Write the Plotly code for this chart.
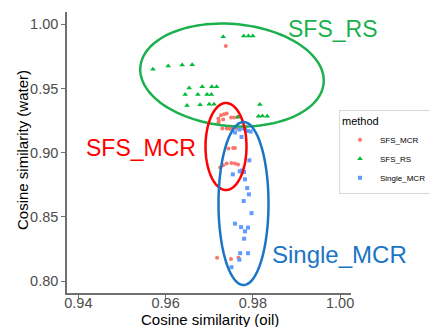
import numpy as np
import plotly.graph_objects as go

# ---- data ----
rs_x = [0.9571, 0.9606, 0.9638, 0.9661, 0.9654, 0.9684, 0.9706, 0.9717, 0.9645, 0.9674,
        0.9695, 0.9705, 0.9649, 0.9679, 0.9700, 0.9711, 0.9732, 0.9779, 0.9790, 0.9800,
        0.9816, 0.9813, 0.9822, 0.9833, 0.9766]
rs_y = [0.9651, 0.9675, 0.9683, 0.9686, 0.9505, 0.9513, 0.9513, 0.9513, 0.9454, 0.9454,
        0.9454, 0.9454, 0.9368, 0.9374, 0.9377, 0.9377, 0.9903, 0.9909, 0.9909, 0.9909,
        0.9376, 0.9285, 0.9287, 0.9285, 0.9279]

mcr_x = [0.9738, 0.9721, 0.9727, 0.9734, 0.9740, 0.9722, 0.9732, 0.9750, 0.9757, 0.9765,
         0.9721, 0.9730, 0.9740, 0.9747, 0.9751, 0.9763, 0.9744, 0.9755, 0.9759, 0.9725,
         0.9732, 0.9740, 0.9751, 0.9759, 0.9766, 0.9718, 0.9750, 0.9767]
mcr_y = [0.9831, 0.9267, 0.9292, 0.9300, 0.9306, 0.9248, 0.9259, 0.9275, 0.9275, 0.9279,
         0.9236, 0.9189, 0.9189, 0.9186, 0.9189, 0.9191, 0.9033, 0.9037, 0.9037, 0.8885,
         0.8902, 0.8916, 0.8920, 0.8916, 0.8908, 0.8183, 0.8172, 0.8183]

single_x = [0.9759, 0.9769, 0.9778, 0.9782, 0.9788, 0.9795, 0.9774, 0.9792, 0.9770, 0.9776,
            0.9780, 0.9754, 0.9782, 0.9787, 0.9791, 0.9779, 0.9797, 0.9759, 0.9773, 0.9789,
            0.9782, 0.9780, 0.9771, 0.9789, 0.9769, 0.9751]
single_y = [0.9158, 0.9181, 0.9189, 0.9189, 0.9170, 0.9165, 0.9123, 0.8941, 0.8856, 0.8863,
            0.8850, 0.8832, 0.8793, 0.8725, 0.8676, 0.8624, 0.8530, 0.8448, 0.8421, 0.8417,
            0.8388, 0.8331, 0.8218, 0.8218, 0.8167, 0.8109]

x_ticks = [0.94, 0.96, 0.98, 1.00]
y_ticks = [0.80, 0.85, 0.90, 0.95, 1.00]

# page body has an 8px default margin -> figure is offset by 8px
OFF = 8
W, H = 438 - OFF, 327 - OFF
ML, MR, MT, MB = 67 - OFF, 87, 12 - OFF, 34
PW, PH = W - ML - MR, H - MT - MB


def pap(px, py):
    # window pixel -> paper coordinates
    return (px - OFF - ML) / PW, (H - MB - (py - OFF)) / PH


def ellipse_path(cx, cy, a, b, deg):
    t = np.linspace(0, 2 * np.pi, 120)
    th = np.radians(deg)
    px = cx + a * np.cos(t) * np.cos(th) - b * np.sin(t) * np.sin(th)
    py = cy + a * np.cos(t) * np.sin(th) + b * np.sin(t) * np.cos(th)
    fx, fy = pap(px, py)
    return "M " + " L ".join(f"{x:.4f},{y:.4f}" for x, y in zip(fx, fy)) + " Z"


fig = go.Figure()
fig.add_trace(go.Scatter(x=mcr_x, y=mcr_y, mode="markers", name="SFS_MCR",
                         marker=dict(symbol="circle", size=4, color="#F8766D")))
fig.add_trace(go.Scatter(x=rs_x, y=rs_y, mode="markers", name="SFS_RS",
                         marker=dict(symbol="triangle-up", size=5, color="#00BA38")))
fig.add_trace(go.Scatter(x=single_x, y=single_y, mode="markers", name="Single_MCR",
                         marker=dict(symbol="square", size=4, color="#619CFF")))

shapes = [
    dict(type="path", xref="paper", yref="paper", path=ellipse_path(232, 75, 92, 51, 5),
         line=dict(color="#1DB04F", width=2.5)),
    dict(type="path", xref="paper", yref="paper", path=ellipse_path(226, 146.5, 20.5, 43.5, 0),
         line=dict(color="#FF0000", width=2.5)),
    dict(type="path", xref="paper", yref="paper", path=ellipse_path(243.5, 203.5, 25, 81.5, 0),
         line=dict(color="#1A75C4", width=2.5)),
]

FONT = "Liberation Sans, Arial, sans-serif"
annots = []
for txt, px, py, col, sz in [("SFS_RS", 332, 29, "#1DB04F", 23),
                             ("SFS_MCR", 140.5, 148, "#FF0000", 23),
                             ("Single_MCR", 339.5, 254, "#1A75C4", 24)]:
    fx, fy = pap(px, py)
    annots.append(dict(text=txt, x=fx, y=fy, xref="paper", yref="paper", showarrow=False,
                       xanchor="center", yanchor="middle",
                       font=dict(size=sz, color=col, family=FONT)))

# axis titles
fx, fy = pap(210, 319)
annots.append(dict(text="Cosine similarity (oil)", x=fx, y=fy, xref="paper", yref="paper",
                   showarrow=False, xanchor="center", yanchor="middle",
                   font=dict(size=15, color="black", family=FONT)))
fx, fy = pap(22, 150)
annots.append(dict(text="Cosine similarity (water)", x=fx, y=fy, xref="paper", yref="paper",
                   showarrow=False, xanchor="center", yanchor="middle", textangle=-90,
                   font=dict(size=15, color="black", family=FONT)))

axis_common = dict(showgrid=False, zeroline=False, showline=True, linecolor="#707070",
                   linewidth=1.5, ticks="outside", tickcolor="#707070", ticklen=4,
                   tickfont=dict(size=14.5, color="#4d4d4d", family=FONT), automargin=False)

lx, ly = pap(339, 110)
fig.update_layout(
    width=W, height=H,
    margin=dict(l=ML, r=MR, t=MT, b=MB, autoexpand=False),
    paper_bgcolor="white", plot_bgcolor="white",
    font=dict(family=FONT, color="black"),
    shapes=shapes, annotations=annots,
    xaxis=dict(range=[0.9374, 1.0025], tickvals=x_ticks, ticktext=[f"{v:.2f}" for v in x_ticks],
               ticklabelstandoff=-8, **axis_common),
    yaxis=dict(range=[0.7908, 1.0096], tickvals=y_ticks, ticktext=[f"{v:.2f}" for v in y_ticks],
               **axis_common),
    legend=dict(title=dict(text="method", font=dict(size=11)), font=dict(size=8),
                x=lx, y=ly, xanchor="left", yanchor="top",
                bordercolor="#d9d9d9", borderwidth=1, bgcolor="white",
                itemsizing="trace", tracegroupgap=0),
    showlegend=True,
)

fig.write_html("out.html")
